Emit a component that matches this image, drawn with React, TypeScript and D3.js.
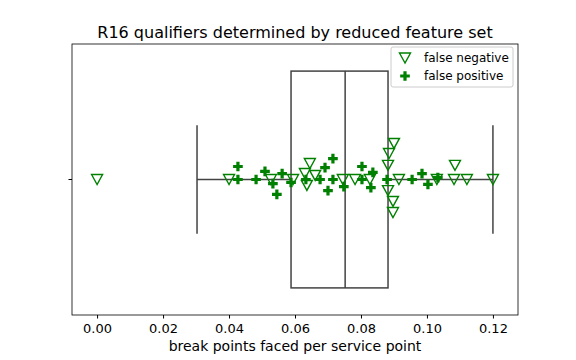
import { useEffect, useRef } from 'react';
import * as d3 from 'd3';

// box summary (break points faced per service point)
const boxStats = { whiskerLow: 0.0303, q1: 0.0588, median: 0.0752, q3: 0.0882, whiskerHigh: 0.12 };

// false negatives: value + vertical jitter (category units)
const fnValues = [0.0, 0.04, 0.0527, 0.0594, 0.0645, 0.063, 0.0636, 0.0661, 0.0745, 0.0782, 0.0827,
  0.09, 0.0885, 0.0882, 0.0882, 0.0897, 0.0897, 0.0915, 0.103, 0.1085, 0.1082, 0.1121, 0.12];
const fnJitter = [0, 0, 0, 0, -0.059, -0.022, 0.022, -0.015, 0, 0, 0,
  -0.133, -0.096, -0.052, 0.041, 0.081, 0.122, 0, 0, -0.052, 0, 0, 0];

// false positives
const fpValues = [0.0427, 0.0427, 0.0482, 0.0509, 0.0533, 0.0561, 0.0545, 0.0588, 0.0633, 0.0676,
  0.0691, 0.0715, 0.0715, 0.07, 0.0748, 0.0803, 0.0803, 0.0836, 0.083, 0.0879, 0.0955, 0.0985, 0.1003, 0.1033];
const fpJitter = [-0.048, 0, 0, -0.03, 0.015, -0.022, 0.055, 0.011, 0, 0,
  -0.044, -0.077, 0, 0.041, 0.026, -0.048, 0, -0.026, 0.03, 0, 0, -0.022, 0.018, -0.007];

const xTicks = [0.0, 0.02, 0.04, 0.06, 0.08, 0.1, 0.12];
const legendLabels = ['false negative', 'false positive'];

const W = 576;
const H = 360;
const GREEN = '#008000';
const BOXLINE = '#434343';
const FONT = 'DejaVu Sans, sans-serif';

const triPath = (w: number, h: number) => `M0,${h / 2}L${-w / 2},${-h / 2}L${w / 2},${-h / 2}Z`;

export default function App() {
  const svgRef = useRef<SVGSVGElement>(null);

  useEffect(() => {
    if (!svgRef.current) return;
    const svg = d3.select(svgRef.current);
    svg.selectAll('*').remove();

    const margin = { top: 44, right: 58, bottom: 45, left: 72 };
    const innerW = W - margin.left - margin.right;
    const innerH = H - margin.top - margin.bottom;

    const x = d3.scaleLinear().domain([-0.0076, 0.1276]).range([0, innerW]);
    const y = d3.scaleLinear().domain([-0.5, 0.5]).range([0, innerH]);

    const g = svg.append('g').attr('transform', `translate(${margin.left},${margin.top})`);

    // box plot
    const halfBox = 0.4;
    const yc = y(0);
    g.append('rect')
      .attr('x', x(boxStats.q1))
      .attr('y', y(-halfBox))
      .attr('width', x(boxStats.q3) - x(boxStats.q1))
      .attr('height', y(halfBox) - y(-halfBox))
      .attr('fill', 'white')
      .attr('stroke', BOXLINE)
      .attr('stroke-width', 1.5);
    g.append('line')
      .attr('x1', x(boxStats.median)).attr('x2', x(boxStats.median))
      .attr('y1', y(-halfBox)).attr('y2', y(halfBox))
      .attr('stroke', BOXLINE).attr('stroke-width', 1.5);
    const whiskers: [number, number][] = [[boxStats.whiskerLow, boxStats.q1], [boxStats.q3, boxStats.whiskerHigh]];
    whiskers.forEach(([a, b]) => {
      g.append('line')
        .attr('x1', x(a)).attr('x2', x(b))
        .attr('y1', yc).attr('y2', yc)
        .attr('stroke', BOXLINE).attr('stroke-width', 1.5);
    });
    [boxStats.whiskerLow, boxStats.whiskerHigh].forEach(v => {
      g.append('line')
        .attr('x1', x(v)).attr('x2', x(v))
        .attr('y1', y(-halfBox / 2)).attr('y2', y(halfBox / 2))
        .attr('stroke', BOXLINE).attr('stroke-width', 1.5);
    });

    // false negative markers
    g.selectAll('.fn')
      .data(fnValues)
      .enter()
      .append('path')
      .attr('class', 'fn')
      .attr('d', triPath(11, 10))
      .attr('transform', (d, i) => `translate(${x(d)},${y(fnJitter[i])})`)
      .attr('fill', 'none')
      .attr('stroke', GREEN)
      .attr('stroke-width', 1.4);

    // false positive markers
    const cross = d3.symbol().type(d3.symbolCross).size(52);
    g.selectAll('.fp')
      .data(fpValues)
      .enter()
      .append('path')
      .attr('class', 'fp')
      .attr('d', cross()!)
      .attr('transform', (d, i) => `translate(${x(d)},${y(fpJitter[i])})`)
      .attr('fill', GREEN);

    // x axis
    const xAxis = g.append('g')
      .attr('transform', `translate(0,${innerH})`)
      .call(d3.axisBottom(x).tickValues(xTicks).tickFormat(d3.format('.2f')).tickSizeOuter(0).tickSize(3.5).tickPadding(5.5));
    xAxis.select('.domain').remove();
    xAxis.selectAll('text').attr('font-family', FONT).attr('font-size', 13).attr('fill', 'black');
    xAxis.selectAll('line').attr('stroke', 'black');

    // y axis: single unlabeled category tick
    g.append('line')
      .attr('x1', -3.5).attr('x2', 0)
      .attr('y1', yc).attr('y2', yc)
      .attr('stroke', 'black');

    // frame
    g.append('rect')
      .attr('width', innerW).attr('height', innerH)
      .attr('fill', 'none').attr('stroke', 'black').attr('stroke-width', 0.8);

    // labels
    svg.append('text')
      .attr('x', margin.left + innerW / 2)
      .attr('y', 351)
      .attr('text-anchor', 'middle')
      .attr('font-family', FONT)
      .attr('font-size', 14)
      .text('break points faced per service point');
    svg.append('text')
      .attr('x', margin.left + innerW / 2)
      .attr('y', 38)
      .attr('text-anchor', 'middle')
      .attr('font-family', FONT)
      .attr('font-size', 16)
      .text('R16 qualifiers determined by reduced feature set');

    // legend
    const lg = svg.append('g').attr('transform', 'translate(391,47)');
    lg.append('rect')
      .attr('width', 122).attr('height', 40).attr('rx', 2)
      .attr('fill', 'white').attr('fill-opacity', 0.8)
      .attr('stroke', '#cccccc').attr('stroke-width', 1);
    legendLabels.forEach((lab, i) => {
      const row = lg.append('g').attr('transform', `translate(14,${11 + i * 18})`);
      if (i === 0) {
        row.append('path').attr('d', triPath(11, 10))
          .attr('fill', 'none').attr('stroke', GREEN).attr('stroke-width', 1.4);
      } else {
        row.append('path').attr('d', cross()!).attr('fill', GREEN);
      }
      row.append('text')
        .attr('x', 19).attr('y', 4)
        .attr('font-family', FONT)
        .attr('font-size', 12)
        .text(lab);
    });
  }, []);

  return (
    <svg
      ref={svgRef}
      width={W}
      height={H}
      style={{ display: 'block', position: 'absolute', left: 0, top: 0, background: 'white' }}
    />
  );
}
